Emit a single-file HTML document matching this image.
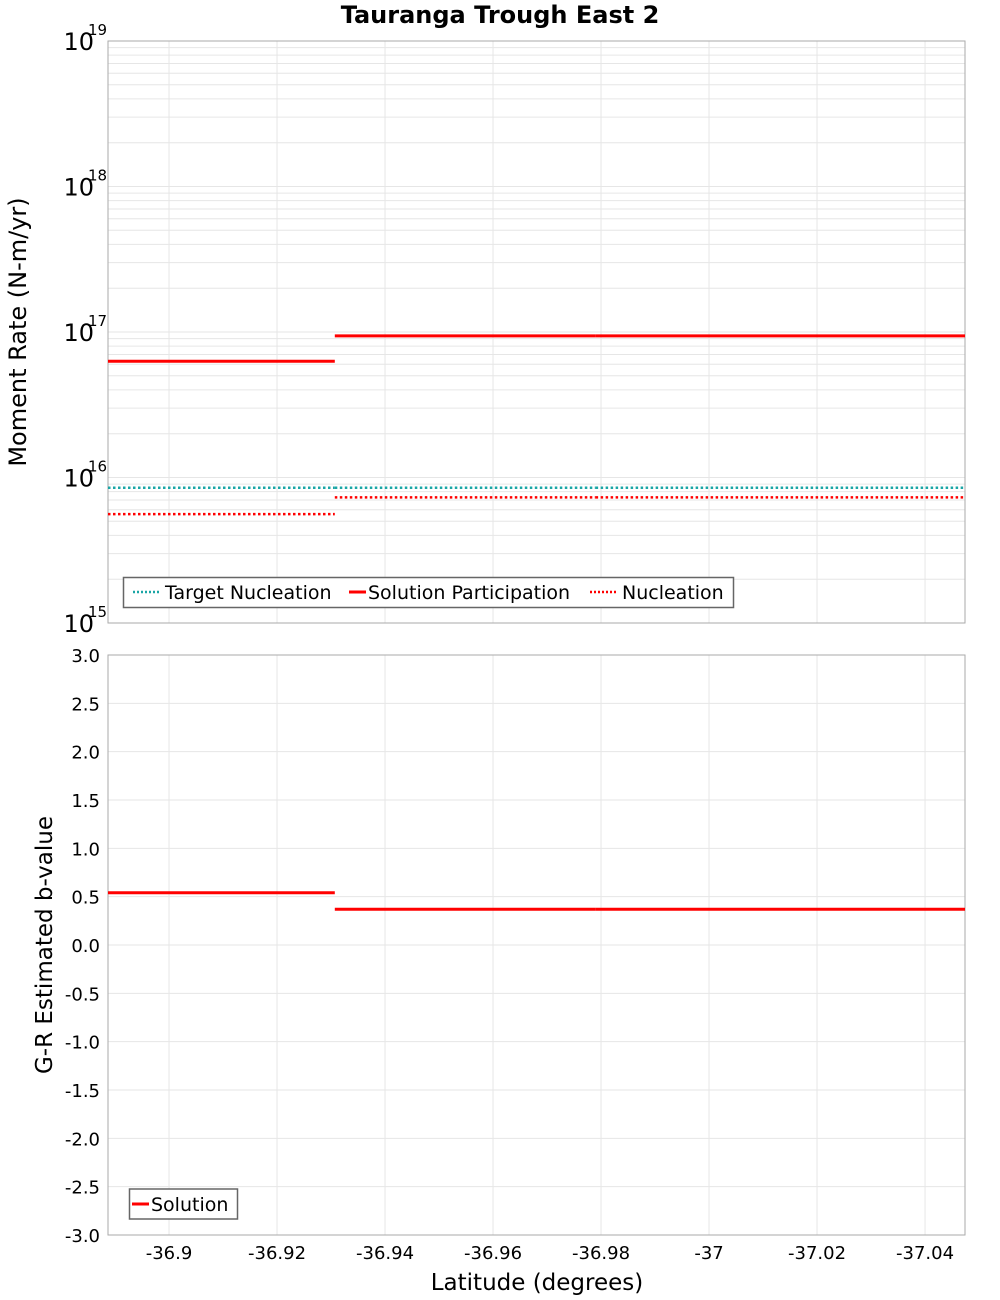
<!DOCTYPE html>
<html><head><meta charset="utf-8"><style>
body{margin:0;background:#fff}
svg{display:block;font-family:"DejaVu Sans","Liberation Sans",sans-serif}
</style></head><body>
<svg id="chart" width="1000" height="1300" xmlns="http://www.w3.org/2000/svg">
<text x="500" y="23" text-anchor="middle" font-size="24" font-weight="bold">Tauranga Trough East 2</text>
<g id="topPanel"></g>
<g id="botPanel"></g>
<text transform="translate(26,332) rotate(-90)" text-anchor="middle" font-size="24">Moment Rate (N-m/yr)</text>
<text transform="translate(52,945) rotate(-90)" text-anchor="middle" font-size="23">G-R Estimated b-value</text>
<text x="537" y="1290" text-anchor="middle" font-size="23">Latitude (degrees)</text>
</svg>
<script>
const segStart = [-36.8887, -36.9307, -36.979];
const segEnd = [-36.9307, -36.979, -37.0474];
const targetNucleation = [8.5e15, 8.5e15, 8.5e15];
const solutionParticipation = [6.3e16, 9.4e16, 9.4e16];
const nucleation = [5.6e15, 7.3e15, 7.3e15];
const bValue = [0.54, 0.37, 0.37];
const xTicks = [-36.9, -36.92, -36.94, -36.96, -36.98, -37, -37.02, -37.04];
const xTickLabels = ["-36.9","-36.92","-36.94","-36.96","-36.98","-37","-37.02","-37.04"];
const logExps = [15, 16, 17, 18, 19];
const bTicks = [3,2.5,2,1.5,1,0.5,0,-0.5,-1,-1.5,-2,-2.5,-3];

const NS = "http://www.w3.org/2000/svg";
const L = 108, R = 965;
const xMin = -36.8887, xMax = -37.0474;
const X = v => L + (v - xMin) / (xMax - xMin) * (R - L);
const T1 = 41, B1 = 623, T2 = 655, B2 = 1235;
const Ylog = v => B1 - (Math.log10(v) - 15) / 4 * (B1 - T1);
const Yb = v => B2 - (v + 3) / 6 * (B2 - T2);
function mk(parent, tag, attrs, text) {
  const e = document.createElementNS(NS, tag);
  for (const k in attrs) e.setAttribute(k, attrs[k]);
  if (text !== undefined) e.textContent = text;
  parent.appendChild(e);
  return e;
}
const topG = document.getElementById('topPanel'), botG = document.getElementById('botPanel');
const grid = "#e6e6e6";
for (let e = 15; e < 19; e++) for (let m = 1; m < 10; m++) {
  const y = Ylog(m * Math.pow(10, e));
  const g = mk(topG, 'line', {x1: L, x2: R, y1: y, y2: y, stroke: grid, 'stroke-width': 1});
  
  
}
[topG, botG].forEach((p, i) => xTicks.forEach(t => {
  const g = mk(p, 'line', {x1: X(t), x2: X(t), y1: i ? T2 : T1, y2: i ? B2 : B1, stroke: grid, 'stroke-width': 1});
  
  
}));
bTicks.forEach(t => {
  const g = mk(botG, 'line', {x1: L, x2: R, y1: Yb(t), y2: Yb(t), stroke: grid, 'stroke-width': 1});
  
  
});
[[topG, T1, B1], [botG, T2, B2]].forEach(([p, t, b]) => {
  const r = mk(p, 'rect', {x: L, y: t, width: R - L, height: b - t, fill: 'none', stroke: '#aaa', 'stroke-width': 1});
  
  
});
logExps.forEach(e => {
  const y = Ylog(Math.pow(10, e));
  const t = mk(topG, 'text', {x: 94, y: y + 9, 'text-anchor': 'end', 'font-size': 24}, '10');
  
  
  const s = mk(topG, 'text', {x: 88, y: y - 6, 'font-size': 15}, String(e));
  
  
});
bTicks.forEach(v => {
  const t = mk(botG, 'text', {x: 100, y: Yb(v) + 7, 'text-anchor': 'end', 'font-size': 18}, v.toFixed(1));
  
  
});
xTicks.forEach((v, i) => {
  const t = mk(botG, 'text', {x: X(v), y: 1259, 'text-anchor': 'middle', 'font-size': 18}, xTickLabels[i]);
  
  
});
function seg(p, arr, Yf, color, dotted, name) {
  arr.forEach((v, i) => {
    const a = {x1: X(segStart[i]), x2: X(segEnd[i]), y1: Yf(v), y2: Yf(v), stroke: color, 'stroke-width': dotted ? 2.5 : 3};
    if (dotted) a['stroke-dasharray'] = '2.5,2.5';
    const l = mk(p, 'line', a);
    
    
  });
}
seg(topG, targetNucleation, Ylog, '#1aa6a6', true, 'target-nucleation-segment');
seg(topG, nucleation, Ylog, '#ff0000', true, 'nucleation-segment');
seg(topG, solutionParticipation, Ylog, '#ff0000', false, 'solution-participation-segment');
seg(botG, bValue, Yb, '#ff0000', false, 'b-value-segment');
const lg1 = mk(topG, 'g', {});


mk(lg1, 'rect', {x: 123.5, y: 577.5, width: 610, height: 30, fill: '#fff', stroke: '#666', 'stroke-width': 1.5});
const items = [[133, 165, '#1aa6a6', true, 'Target Nucleation'], [349, 368, '#ff0000', false, 'Solution Participation'], [590, 622, '#ff0000', true, 'Nucleation']];
items.forEach(([x, tx, c, d, label]) => {
  const a = {x1: x, x2: x + (d ? 26 : 17), y1: 592, y2: 592, stroke: c, 'stroke-width': d ? 2.5 : 3};
  if (d) a['stroke-dasharray'] = '2,2';
  const ln = mk(lg1, 'line', a);
  
  
  const t = mk(lg1, 'text', {x: tx, y: 599, 'font-size': 19}, label);
  
  
});
const lg2 = mk(botG, 'g', {});


mk(lg2, 'rect', {x: 129.5, y: 1189, width: 108, height: 30, fill: '#fff', stroke: '#666', 'stroke-width': 1.5});
const sw = mk(lg2, 'line', {x1: 132, x2: 149, y1: 1204, y2: 1204, stroke: '#ff0000', 'stroke-width': 3});


const st = mk(lg2, 'text', {x: 151, y: 1211, 'font-size': 19}, 'Solution');


</script>
</body></html>
